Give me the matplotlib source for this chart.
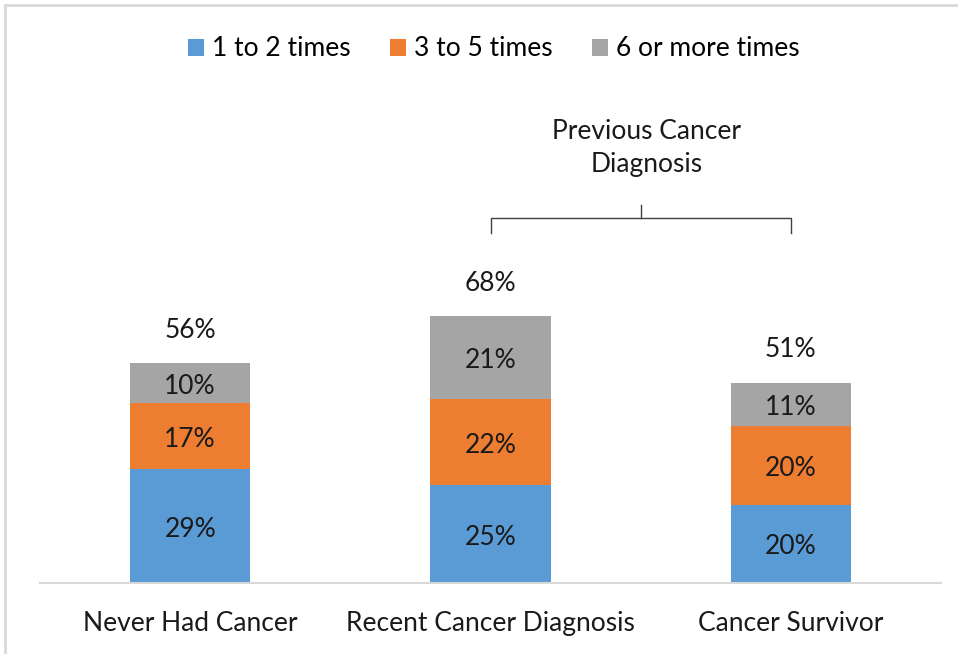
import matplotlib
matplotlib.use("Agg")
import matplotlib.pyplot as plt
from matplotlib.patches import Rectangle

plt.rcParams['font.family'] = ['Lato', 'DejaVu Sans']

categories = ["Never Had Cancer", "Recent Cancer Diagnosis", "Cancer Survivor"]
series_names = ["1 to 2 times", "3 to 5 times", "6 or more times"]
low = [29, 25, 20]
mid = [17, 22, 20]
high = [10, 21, 11]
totals = [56, 68, 51]
colors = ["#5B9BD5", "#ED7D31", "#A5A5A5"]

W, H = 958, 654
FS = 19
TXT = "#1a1a1a"
fig = plt.figure(figsize=(W / 100, H / 100), dpi=100)

# axes: x from 40px to 941px, baseline at 583px, ~3.92px per percent
ax_left, ax_right = 40 / W, 941 / W
base = 1 - 583 / H
ymax = 125
ax_h = ymax * 3.92 / H
ax = fig.add_axes([ax_left, base, ax_right - ax_left, ax_h])

x = list(range(len(categories)))
width = 0.4
bottom = [0] * len(categories)
for vals, name, c in zip([low, mid, high], series_names, colors):
    ax.bar(x, vals, width, bottom=bottom, color=c, label=name, zorder=2)
    for xi, b, v in zip(x, bottom, vals):
        ax.text(xi, b + v / 2 - 0.8, f"{v}%", ha="center", va="center",
                fontsize=FS, color=TXT)
    bottom = [b + v for b, v in zip(bottom, vals)]

for xi, t in zip(x, totals):
    ax.text(xi, t + 8.5, f"{t}%", ha="center", va="center", fontsize=FS, color=TXT)

ax.set_xlim(-0.5, 2.5)
ax.set_ylim(0, ymax)
for s in ["top", "right", "left"]:
    ax.spines[s].set_visible(False)
ax.spines["bottom"].set_color("#D9D9D9")
ax.spines["bottom"].set_linewidth(1.5)
ax.set_yticks([])
ax.set_xticks(x)
ax.set_xticklabels(categories, fontsize=FS, color=TXT)
ax.tick_params(axis="x", length=0, pad=20)

# bracket grouping the two previous-diagnosis categories
bk = dict(color="#404040", lw=1.0, clip_on=False)
ax.plot([1, 1, 2, 2], [89.3, 93.1, 93.1, 89.3], **bk)
ax.plot([1.5, 1.5], [93.1, 96.4], **bk)
ax.text(1.52, 115.2, "Previous Cancer", ha="center", va="center", fontsize=FS, color=TXT)
ax.text(1.52, 106.8, "Diagnosis", ha="center", va="center", fontsize=FS, color=TXT)

fig.legend(loc="center", bbox_to_anchor=(494 / W, 1 - 49 / H), ncol=3, frameon=False,
           fontsize=FS, handlelength=0.6, handleheight=0.6, handletextpad=0.3,
           columnspacing=1.5)

# outer frame
fig.patches.append(Rectangle((5 / W, -0.1), 1.2, 1 - 5 / H + 0.1,
                             transform=fig.transFigure, fill=False,
                             edgecolor="#D9D9D9", lw=2))

fig.savefig("out.png", dpi=100)
